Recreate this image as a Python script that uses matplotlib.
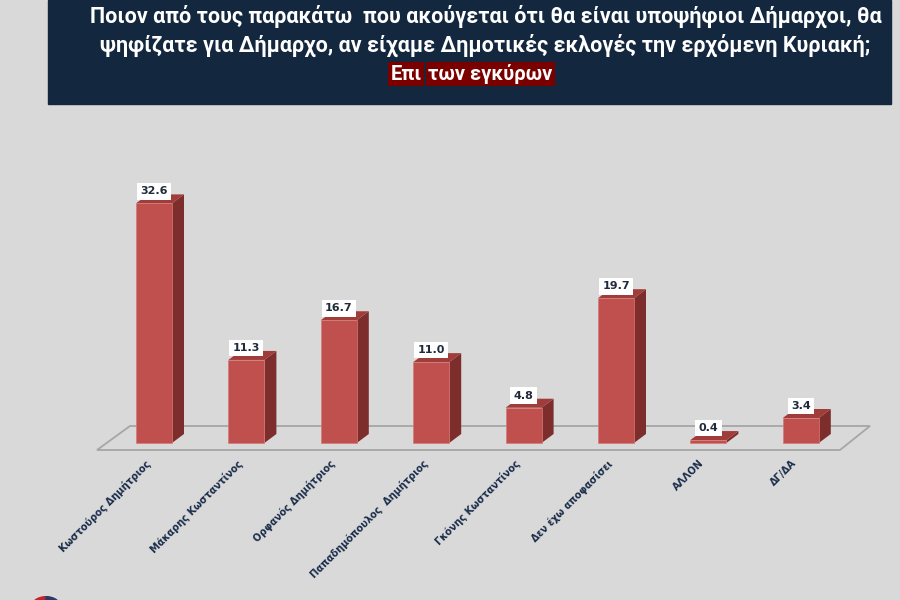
import matplotlib
matplotlib.use("Agg")
import matplotlib.pyplot as plt
from matplotlib.patches import Polygon, Rectangle, Wedge

names = ["Κωστούρος Δημήτριος", "Μάκαρης Κωσταντίνος", "Ορφανός Δημήτριος",
         "Παπαδημόπουλος  Δημήτριος", "Γκόνης Κωσταντίνος", "Δεν έχω αποφασίσει",
         "ΑΛΛΟΝ", "ΔΓ/ΔΑ"]
values = [32.6, 11.3, 16.7, 11.0, 4.8, 19.7, 0.4, 3.4]

title1 = "Ποιον από τους παρακάτω  που ακούγεται ότι θα είναι υποψήφιοι Δήμαρχοι, θα"
title2 = "ψηφίζατε για Δήμαρχο, αν είχαμε Δημοτικές εκλογές την ερχόμενη Κυριακή;"
title3a = "Επι"
title3b = "των εγκύρων"

bg = "#d9d9d9"
navy = "#13273f"
front = "#c0504d"
side = "#7d2e2c"
top = "#a03c3a"
tfont = ["Roboto", "DejaVu Sans"]

fig = plt.figure(figsize=(9, 6), dpi=100, facecolor=bg)

# title banner
fig.patches.append(Rectangle((48 / 900, 1 - 104 / 600), 843 / 900, 104 / 600,
                             transform=fig.transFigure, color=navy, zorder=0))
fig.text(486 / 900, 1 - 16 / 600, title1, ha="center", va="center", color="white",
         fontsize=15.5, fontweight="bold", family=tfont)
fig.text(485 / 900, 1 - 45 / 600, title2, ha="center", va="center", color="white",
         fontsize=15.5, fontweight="bold", family=tfont)
hl = dict(boxstyle="square,pad=0.12", fc="#7a0000", ec="none")
fig.text(422 / 900, 1 - 74 / 600, title3a, ha="right", va="center", color="white",
         fontsize=14.5, fontweight="bold", family=tfont, bbox=hl)
fig.text(428 / 900, 1 - 74 / 600, title3b, ha="left", va="center", color="white",
         fontsize=14.5, fontweight="bold", family=tfont, bbox=hl)

# logo fragment bottom-left
fig.patches.append(Wedge((46 / 900, -6 / 600), 14 / 900, 90, 270, transform=fig.transFigure,
                         color="#c0272d"))
fig.patches.append(Wedge((46 / 900, -6 / 600), 14 / 900, -90, 90, transform=fig.transFigure,
                         color="#2b3a67"))

# chart axes
step = 92.4
left_px = 154 - step / 2
ax = fig.add_axes([left_px / 900, (600 - 443) / 600, 8 * step / 900, 294 / 600])
ax.set_xlim(-0.5, 7.5)
ax.set_ylim(0, 40)
ax.axis("off")
ax.patch.set_alpha(0)

px_x = 1 / step
px_y = 40 / 294
dx = 12 * px_x
dy = 9 * px_y
w = 36 * px_x

# floor
floor = Polygon([(-0.5 + (97 - left_px) * px_x, -7 * px_y),
                 (-0.5 + (840 - left_px) * px_x, -7 * px_y),
                 (-0.5 + (870 - left_px) * px_x, 17 * px_y),
                 (-0.5 + (130 - left_px) * px_x, 17 * px_y)],
                closed=True, fc=bg, ec="#a6a6a6", lw=1.3, clip_on=False, zorder=1)
ax.add_patch(floor)

bars = ax.bar(range(len(values)), values, width=w, color=front, zorder=3,
              clip_on=False, edgecolor="#d77a76", linewidth=0.5)
for i, v in enumerate(values):
    x0 = i - w / 2
    x1 = i + w / 2
    ax.add_patch(Polygon([(x1, 0), (x1 + dx, dy), (x1 + dx, v + dy), (x1, v)],
                         closed=True, fc=side, ec="none", zorder=2, clip_on=False))
    ax.add_patch(Polygon([(x0, v), (x0 + dx, v + dy), (x1 + dx, v + dy), (x1, v)],
                         closed=True, fc=top, ec="none", zorder=2, clip_on=False))
    ax.annotate(f"{v:.1f}", (i, v), xytext=(0, 12), textcoords="offset pixels",
                ha="center", va="center", fontsize=8, fontweight="bold", color="#1f2a3a",
                bbox=dict(boxstyle="square,pad=0.3", fc="white", ec="none"), zorder=5)
    ax.text(i - 0.1, -15 * px_y, names[i], rotation=45, rotation_mode="anchor",
            ha="right", va="top", fontsize=7, color="#1a2d4a", fontweight="semibold",
            clip_on=False)

fig.savefig("out.png", dpi=100, facecolor=bg)
